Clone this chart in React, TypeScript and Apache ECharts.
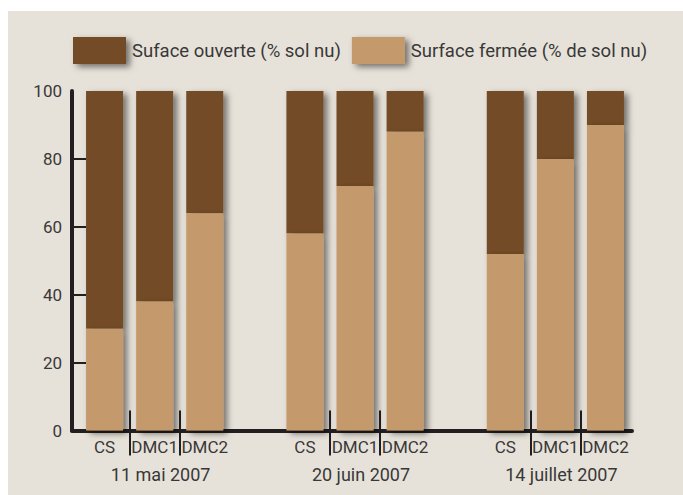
import React, { useEffect, useRef } from "react";
import * as echarts from "echarts";

const dates = ["11 mai 2007", "20 juin 2007", "14 juillet 2007"];
const treatments = ["CS", "DMC1", "DMC2"];
const seriesNames = ["Suface ouverte (% sol nu)", "Surface fermée (% de sol nu)"];
// per date, per treatment (CS, DMC1, DMC2)
const fermee = [30, 38, 64, 58, 72, 88, 52, 80, 90];
const ouverte = [70, 62, 36, 42, 28, 12, 48, 20, 10];
const yTicks = [0, 20, 40, 60, 80, 100];

const DARK = "#734b27";
const LIGHT = "#c49a6c";
const BG = "#e7e2d9";
const AXIS = "#231f20";
const TEXT = "#383838";
const FONT = "Roboto, 'Noto Sans', sans-serif";

export default function App() {
  const ref = useRef<HTMLDivElement>(null);
  useEffect(() => {
    if (!ref.current) return;
    const chart = echarts.init(ref.current, undefined, { renderer: "svg" });
    const slot = treatments.length + 1;
    const xs: number[] = [];
    const labelMap: Record<string, string> = {};
    dates.forEach((_, g) =>
      treatments.forEach((t, i) => {
        const x = g * slot + i;
        xs.push(x);
        labelMap[String(x)] = t;
      })
    );
    const sepTicks: number[] = [];
    dates.forEach((_, g) => {
      sepTicks.push(g * slot + 0.5, g * slot + 1.5);
    });
    const dateCenters = dates.map((_, g) => g * slot + 1.12);
    const dateMap: Record<string, string> = {};
    dateCenters.forEach((c, g) => (dateMap[String(c)] = dates[g]));
    const xMin = -0.65;
    const xMax = (dates.length - 1) * slot + treatments.length - 1 + 0.53;
    const shadow = {
      shadowBlur: 6,
      shadowColor: "rgba(0,0,0,0.5)",
      shadowOffsetX: 4,
      shadowOffsetY: 3,
    };
    chart.setOption({
      animation: false,
      backgroundColor: "transparent",
      textStyle: { fontFamily: FONT },
      graphic: [
        {
          type: "rect",
          shape: { x: 8, y: 11, width: 683 - 8, height: 495 - 11 },
          style: { fill: BG },
          z: -10,
          silent: true,
        },
      ],
      legend: {
        data: seriesNames,
        left: 73,
        top: 37,
        padding: 0,
        itemWidth: 53,
        itemHeight: 27,
        itemGap: 11,
        icon: "rect",
        textStyle: { color: TEXT, fontSize: 18.5, fontFamily: FONT, padding: [0, 0, 0, 1] },
        itemStyle: { ...shadow },
      },
      grid: { left: 72, right: 51, top: 91, bottom: 64.5, containLabel: false },
      xAxis: [
        {
          type: "value",
          min: xMin,
          max: xMax,
          position: "bottom",
          splitLine: { show: false },
          axisLine: { show: true, onZero: false, lineStyle: { color: AXIS, width: 4 } },
          axisTick: {
            show: true,
            inside: false,
            length: 25,
            lineStyle: { color: AXIS, width: 2 },
            customValues: sepTicks,
          },
          axisLabel: {
            show: true,
            color: TEXT,
            fontSize: 17,
            fontFamily: FONT,
            margin: 8,
            customValues: xs,
            formatter: (v: number) => labelMap[String(v)] ?? "",
          },
        },
        {
          type: "value",
          min: xMin,
          max: xMax,
          position: "bottom",
          splitLine: { show: false },
          axisLine: { show: false, onZero: false },
          axisTick: {
            show: true,
            inside: true,
            length: 20,
            lineStyle: { color: AXIS, width: 2 },
            customValues: sepTicks,
          },
          axisLabel: {
            show: true,
            color: TEXT,
            fontSize: 18,
            fontFamily: FONT,
            margin: 35,
            customValues: dateCenters,
            formatter: (v: number) => dateMap[String(v)] ?? "",
          },
        },
      ],
      yAxis: {
        type: "value",
        min: 0,
        max: 100,
        interval: 20,
        splitLine: { show: false },
        axisLine: { show: true, onZero: false, lineStyle: { color: AXIS, width: 4 } },
        axisTick: {
          show: true,
          inside: true,
          length: 14,
          lineStyle: { color: AXIS, width: 2 },
          customValues: yTicks.slice(1, -1),
        },
        axisLabel: { color: TEXT, fontSize: 17, fontFamily: FONT, margin: 10 },
      },
      series: [
        {
          name: seriesNames[1],
          type: "bar",
          stack: "s",
          barWidth: 37,
          z: 3,
          encode: { x: 1, y: 0 },
          data: xs.map((x, i) => [fermee[i], x]),
          itemStyle: { color: LIGHT, ...shadow },
        },
        {
          name: seriesNames[0],
          type: "bar",
          stack: "s",
          barWidth: 37,
          z: 2,
          encode: { x: 1, y: 0 },
          data: xs.map((x, i) => [ouverte[i], x]),
          itemStyle: { color: DARK, ...shadow },
        },
      ],
    });
    return () => chart.dispose();
  }, []);
  return (
    <div
      ref={ref}
      style={{ position: "fixed", left: 0, top: 0, width: 683, height: 495, background: "#ffffff" }}
    />
  );
}
